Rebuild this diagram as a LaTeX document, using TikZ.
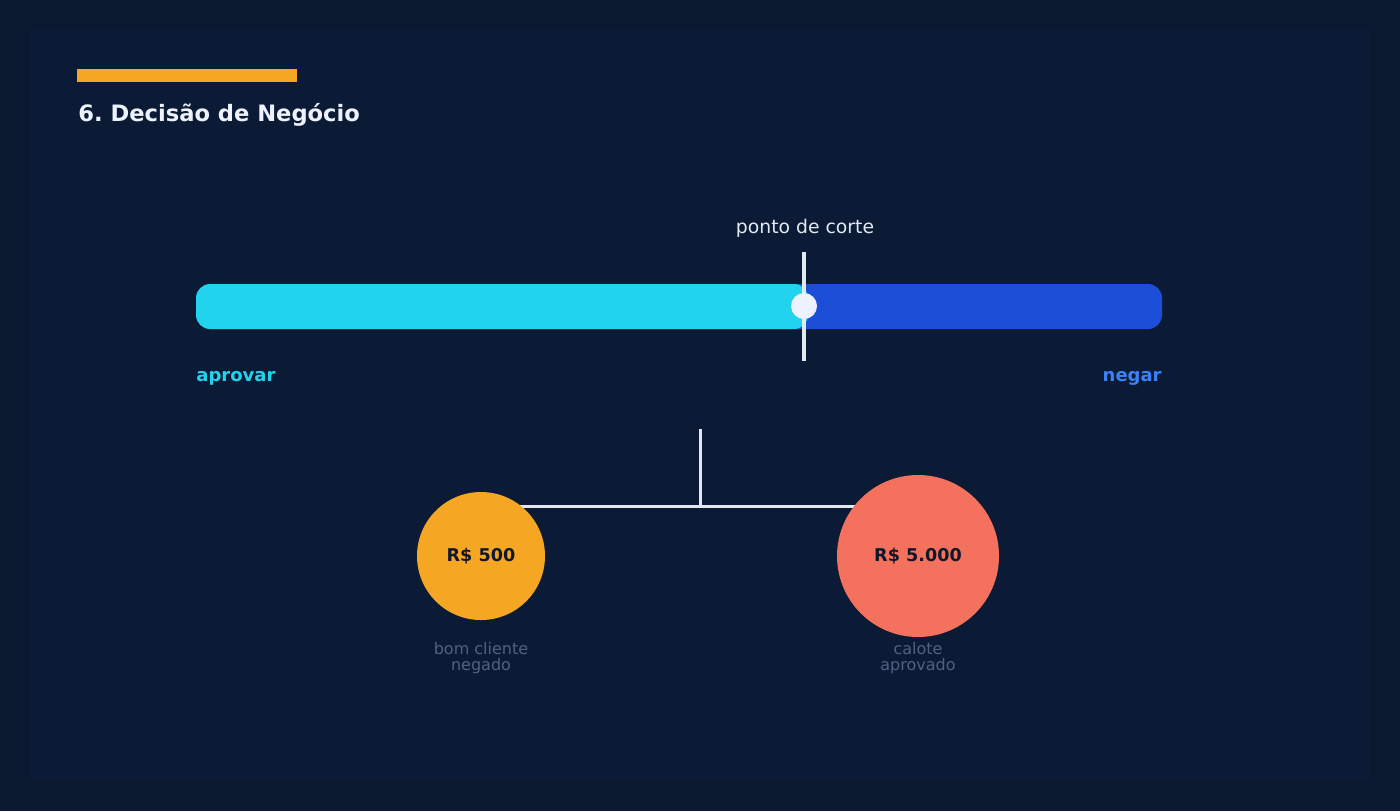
\documentclass[tikz,border=0pt]{standalone}
\usepackage{fontspec}
\setmainfont{DejaVu Sans}
\usetikzlibrary{positioning}
\pgfdeclarelayer{background}
\pgfsetlayers{background,main}
\frenchspacing

\begin{document}
\begin{tikzpicture}[x=0.5pt,y=-0.5pt,
  lbl/.style={font=\fontsize{9.4}{11}\selectfont},
  tag/.style={font=\bfseries\fontsize{9}{10}\selectfont},
  loss/.style={circle,inner sep=0pt,font=\bfseries\fontsize{8.8}{10}\selectfont,text=ink},
  note/.style={align=center,text=muted,inner sep=0pt,font=\fontsize{8}{8.3}\selectfont},
  wire/.style={color=line,line width=1.5pt}]

\definecolor{bg}{HTML}{0A1930}
\definecolor{frame}{HTML}{0B1B35}
\definecolor{accent}{HTML}{F5A623}
\definecolor{cyanbar}{HTML}{22D3EE}
\definecolor{bluebar}{HTML}{1D4ED8}
\definecolor{bluetxt}{HTML}{3B82F6}
\definecolor{line}{HTML}{E2E8F0}
\definecolor{knob}{HTML}{EEF2FF}
\definecolor{coral}{HTML}{F4725D}
\definecolor{ink}{HTML}{0F172A}
\definecolor{muted}{HTML}{4E6283}
\definecolor{titlecol}{HTML}{EEF2FF}

\useasboundingbox (0,0) rectangle (1400,811);

% header
\fill[color=accent] (77,69) rectangle (297,82);
\node[anchor=west,inner sep=0pt,text=titlecol,font=\bfseries\fontsize{11.3}{12}\selectfont] (title) at (78,115) {6. Decisão de Negócio};

% scale bar
\fill[color=bluebar,rounded corners=7pt] (780,284) rectangle (1162,329);
\fill[color=cyanbar,rounded corners=7pt] (196,284) rectangle (808,329);
\coordinate (cuttop) at (804,252);
\coordinate (cutbot) at (804,361);
\draw[color=line,line width=2pt] (cuttop)--(cutbot);
\node[circle,fill=knob,minimum size=13pt,inner sep=0pt] (cut) at (804,306) {};
\node[lbl,text=line] (cutlbl) at (805,228) {ponto de corte};
\node[tag,anchor=west,text=cyanbar,inner sep=0pt] (aprovar) at (196,378) {aprovar};
\node[tag,anchor=east,text=bluetxt,inner sep=0pt] (negar) at (1162,378) {negar};

% losses
\node[loss,fill=accent,minimum size=64pt] (fn) at (481,556) {R\$ 500};
\node[loss,fill=coral,minimum size=81pt] (fp) at (918,556) {R\$ 5.000};
\node[note] (fnlbl) at (481,658) {bom cliente\\negado};
\node[note] (fplbl) at (918,658) {calote\\aprovado};
\coordinate (stem) at (700,429);
\coordinate (tee) at (700,506);
\begin{pgfonlayer}{background}
\fill[color=bg] (0,0) rectangle (1400,811);
\fill[color=frame] (30,30) rectangle (1370,781);
\draw[wire] (stem)--(tee);
\draw[wire] (fn.center |- tee)--(fp.center |- tee);
\end{pgfonlayer}
\end{tikzpicture}
\end{document}
